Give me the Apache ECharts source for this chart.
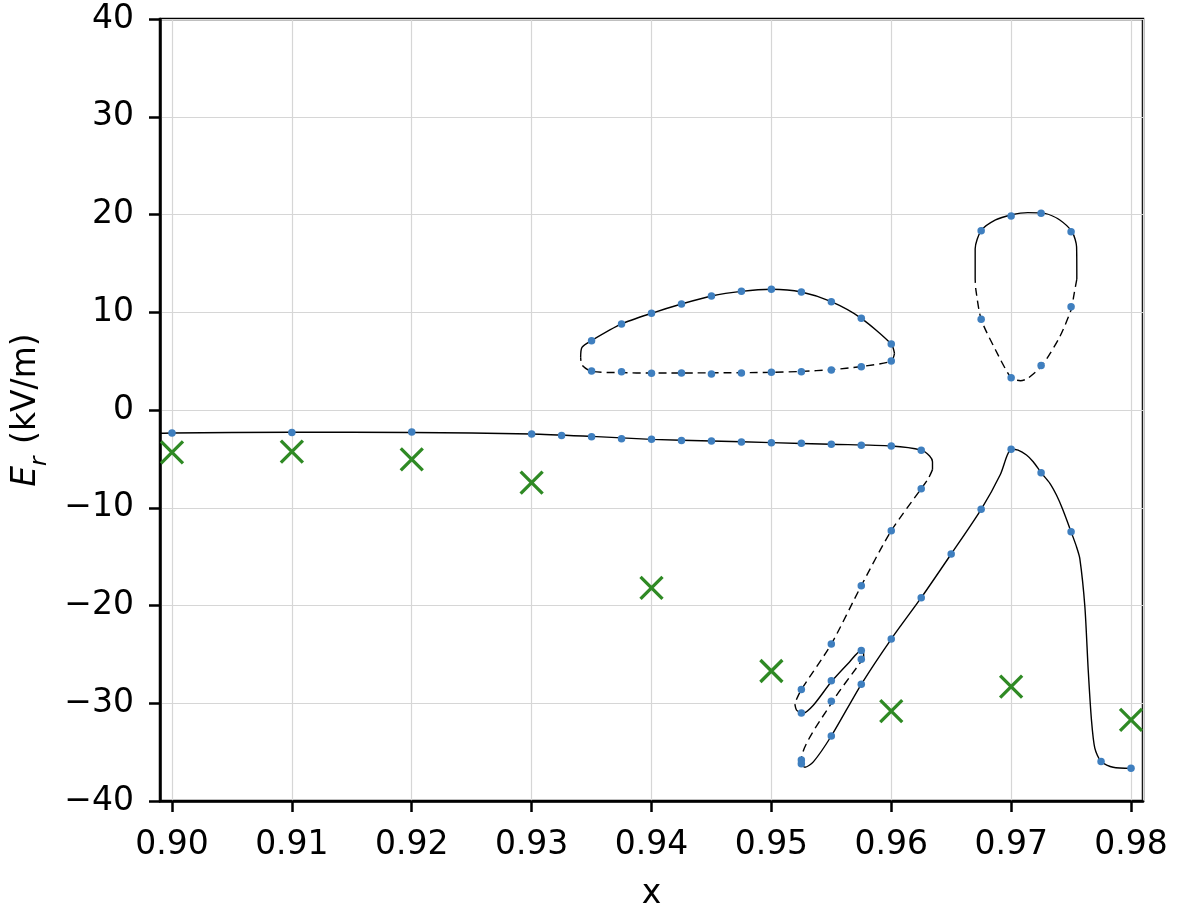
<!DOCTYPE html>
<html>
<head>
<meta charset="utf-8">
<script src="https://cdn.jsdelivr.net/npm/echarts@6/dist/echarts.min.js"></script>
<style>
html,body{margin:0;padding:0;background:#fff;}
#chart{width:1177px;height:909px;}
</style>
</head>
<body>
<div id="chart"></div>
<script>
// ---- data ----
const xTicks = [0.90, 0.91, 0.92, 0.93, 0.94, 0.95, 0.96, 0.97, 0.98];
const yTicks = [-40, -30, -20, -10, 0, 10, 20, 30, 40];

// solution branches (solid = stable, dashed = unstable)
const mainSolidA = [[0.899,-2.38],[0.90,-2.35],[0.91,-2.28],[0.92,-2.3],[0.93,-2.45],[0.935,-2.7],[0.94,-3.0],[0.945,-3.17],[0.95,-3.34],[0.955,-3.51],[0.96,-3.68],[0.9625,-4.1],[0.9632,-4.7],[0.96344,-5.3],[0.96344,-6.1]];
const mainDashedB = [[0.96344,-6.1],[0.9631,-7.0],[0.9625,-8.05],[0.96,-12.35],[0.9575,-17.97],[0.955,-23.94],[0.9525,-28.6],[0.9521,-29.6],[0.95196,-30.1]];
const mainSolidC = [[0.95196,-30.1],[0.9521,-30.7],[0.9526,-31.05],[0.9535,-30.2],[0.955,-27.8],[0.9565,-25.8],[0.9575,-24.6],[0.95768,-24.8],[0.9577,-25.3]];
const mainDashedD = [[0.9577,-25.3],[0.9575,-25.7],[0.955,-30.0],[0.9525,-35.8],[0.9525,-36.3]];
const mainSolidE = [[0.9525,-36.3],[0.9528,-36.55],[0.9535,-36.0],[0.955,-33.35],[0.9575,-28.06],[0.96,-23.43],[0.9625,-19.2],[0.965,-14.73],[0.9675,-10.16],[0.9691,-6.6],[0.96965,-4.7],[0.97,-4.02],[0.97058,-4.1],[0.97128,-4.6],[0.97184,-5.29],[0.9725,-6.41],[0.97323,-7.5],[0.97378,-8.7],[0.97429,-10.13],[0.975,-12.45],[0.97545,-13.98],[0.97573,-15.2],[0.97615,-20.1],[0.97643,-26.6],[0.9767,-31.7],[0.97698,-34.6],[0.9775,-35.97],[0.97851,-36.55],[0.98,-36.66]];
const loopSolid = [[0.93409,5.4],[0.9342,6.4],[0.935,7.1],[0.9375,8.8],[0.94,9.89],[0.9425,10.84],[0.945,11.66],[0.9475,12.14],[0.95,12.35],[0.9525,12.07],[0.955,11.08],[0.9575,9.38],[0.96,6.75],[0.96027,5.8]];
const loopDashed = [[0.96027,5.8],[0.96,5.0],[0.9575,4.45],[0.955,4.12],[0.9525,3.95],[0.95,3.85],[0.945,3.8],[0.94,3.78],[0.9375,3.82],[0.935,3.95],[0.9342,4.6],[0.93409,5.4]];
const dropSolid = [[0.967,13.4],[0.967,16.5],[0.9675,18.35],[0.9687,19.44],[0.97,19.95],[0.97139,20.19],[0.9728,20.12],[0.97406,19.44],[0.9751,18.2],[0.97546,16.7],[0.97548,13.4]];
const dropDashed = [[0.97548,13.4],[0.9752,11.5],[0.9751,10.57],[0.97406,7.5],[0.97257,4.54],[0.97139,3.24],[0.97078,3.0],[0.9700,3.3],[0.9687,6.14],[0.9675,9.28],[0.96706,12.28],[0.967,13.4]];

// computed points (blue dots)
const dotsX = [0.90,0.91,0.92,0.93,0.9325,0.935,0.9375,0.94,0.9425,0.945,0.9475,0.95,0.9525,0.955,0.9575,0.96,0.9625,
  0.9625,0.96,0.9575,0.955,0.9525,
  0.9525,0.955,0.9575,
  0.9575,0.955,0.9525,
  0.9525,0.955,0.9575,0.96,0.9625,0.965,0.9675,0.97,0.9725,0.975,0.9775,0.98,
  0.935,0.9375,0.94,0.9425,0.945,0.9475,0.95,0.9525,0.955,0.9575,0.96,
  0.96,0.9575,0.955,0.9525,0.95,0.9475,0.945,0.9425,0.94,0.9375,0.935,
  0.9675,0.97,0.9725,0.975,0.975,0.9725,0.97,0.9675];
const dotsY = [-2.35,-2.3,-2.25,-2.45,-2.6,-2.73,-2.93,-3.0,-3.13,-3.17,-3.27,-3.34,-3.41,-3.51,-3.61,-3.68,-4.13,
  -8.05,-12.35,-17.97,-23.94,-28.6,
  -31.0,-27.7,-24.6,
  -25.5,-29.8,-35.8,
  -36.2,-33.35,-28.06,-23.43,-19.2,-14.73,-10.16,-4.02,-6.41,-12.45,-35.97,-36.66,
  7.09,8.8,9.89,10.84,11.66,12.14,12.35,12.07,11.08,9.38,6.75,
  5.01,4.43,4.09,3.92,3.85,3.78,3.68,3.78,3.75,3.92,3.99,
  18.35,19.85,20.12,18.24,10.57,4.54,3.31,9.28];

// measured points (green crosses)
const measX = [0.90,0.91,0.92,0.93,0.94,0.95,0.96,0.97,0.98];
const measY = [-4.33,-4.26,-5.05,-7.43,-18.2,-26.7,-30.8,-28.3,-31.7];

// ---- chart ----
const FONT = 'DejaVu Sans';
const chart = echarts.init(document.getElementById('chart'), null, {renderer:'canvas'});

function curve(data, dashed) {
  return {
    type: 'line', data: data, showSymbol: false, symbol: 'none', smooth: 0.25,
    lineStyle: {color: '#000', width: 1.4, type: dashed ? [8,5] : 'solid'},
    silent: true, z: 2, clip: true
  };
}

chart.setOption({
  animation: false,
  backgroundColor: '#fff',
  grid: {left: 160, right: 34, top: 19, bottom: 108, containLabel: false, outerBoundsMode: 'none',
    show: true, borderColor: '#000', borderWidth: 2.5, backgroundColor: 'transparent'},
  xAxis: {
    type: 'value', min: 0.899, max: 0.981, minInterval: 0.01, maxInterval: 0.01,
    name: 'x', nameLocation: 'middle', nameGap: 77,
    nameTextStyle: {fontFamily: FONT, fontSize: 33, color: '#000'},
    axisLine: {show: true, onZero: false, lineStyle: {color: '#000', width: 2.5}},
    axisTick: {show: true, length: 11, lineStyle: {color: '#000', width: 2.5}},
    axisLabel: {fontFamily: FONT, fontSize: 33, color: '#000', margin: 28, showMinLabel: false, showMaxLabel: false,
      formatter: v => xTicks.some(t => Math.abs(t - v) < 1e-6) ? v.toFixed(2) : ''},
    splitLine: {show: true, lineStyle: {color: '#d6d6d6', width: 1.2}}
  },
  yAxis: {
    type: 'value', min: -40, max: 40, interval: 10,
    name: '{e|E}{r|r}{n| (kV/m)}', nameLocation: 'middle', nameGap: 114, nameRotate: 90,
    nameTextStyle: {fontFamily: FONT, fontSize: 33, color: '#000',
      rich: {
        e: {fontFamily: FONT, fontSize: 33, fontStyle: 'italic', color: '#000', lineHeight: 40, verticalAlign: 'middle'},
        r: {fontFamily: FONT, fontSize: 23, fontStyle: 'italic', color: '#000', lineHeight: 40, verticalAlign: 'bottom', padding: [0,2,-6,0]},
        n: {fontFamily: FONT, fontSize: 33, color: '#000', lineHeight: 40, verticalAlign: 'middle'}
      }},
    axisLine: {show: true, onZero: false, lineStyle: {color: '#000', width: 2.5}},
    axisTick: {show: true, length: 11, lineStyle: {color: '#000', width: 2.5}},
    axisLabel: {fontFamily: FONT, fontSize: 33, color: '#000', margin: 26,
      formatter: v => (v < 0 ? '\u2212' + Math.abs(v) : String(v))},
    splitLine: {show: true, lineStyle: {color: '#d6d6d6', width: 1.2}}
  },
  series: [
    curve(mainSolidA, false), curve(mainDashedB, true), curve(mainSolidC, false),
    curve(mainDashedD, true), curve(mainSolidE, false),
    curve(loopSolid, false), curve(loopDashed, true),
    curve(dropSolid, false), curve(dropDashed, true),
    {type: 'scatter', data: dotsX.map((x, i) => [x, dotsY[i]]), symbol: 'circle', symbolSize: 7.5,
      itemStyle: {color: '#3f7fbf', opacity: 1}, z: 3, silent: true},
    {type: 'scatter', data: measX.map((x, i) => [x, measY[i]]), symbol: 'path://M0,0L10,10M10,0L0,10', symbolSize: 22,
      itemStyle: {color: 'none', borderColor: '#2f8a24', borderWidth: 3.3, opacity: 1}, z: 4, silent: true, clip: false}
  ]
});
</script>
</body>
</html>
